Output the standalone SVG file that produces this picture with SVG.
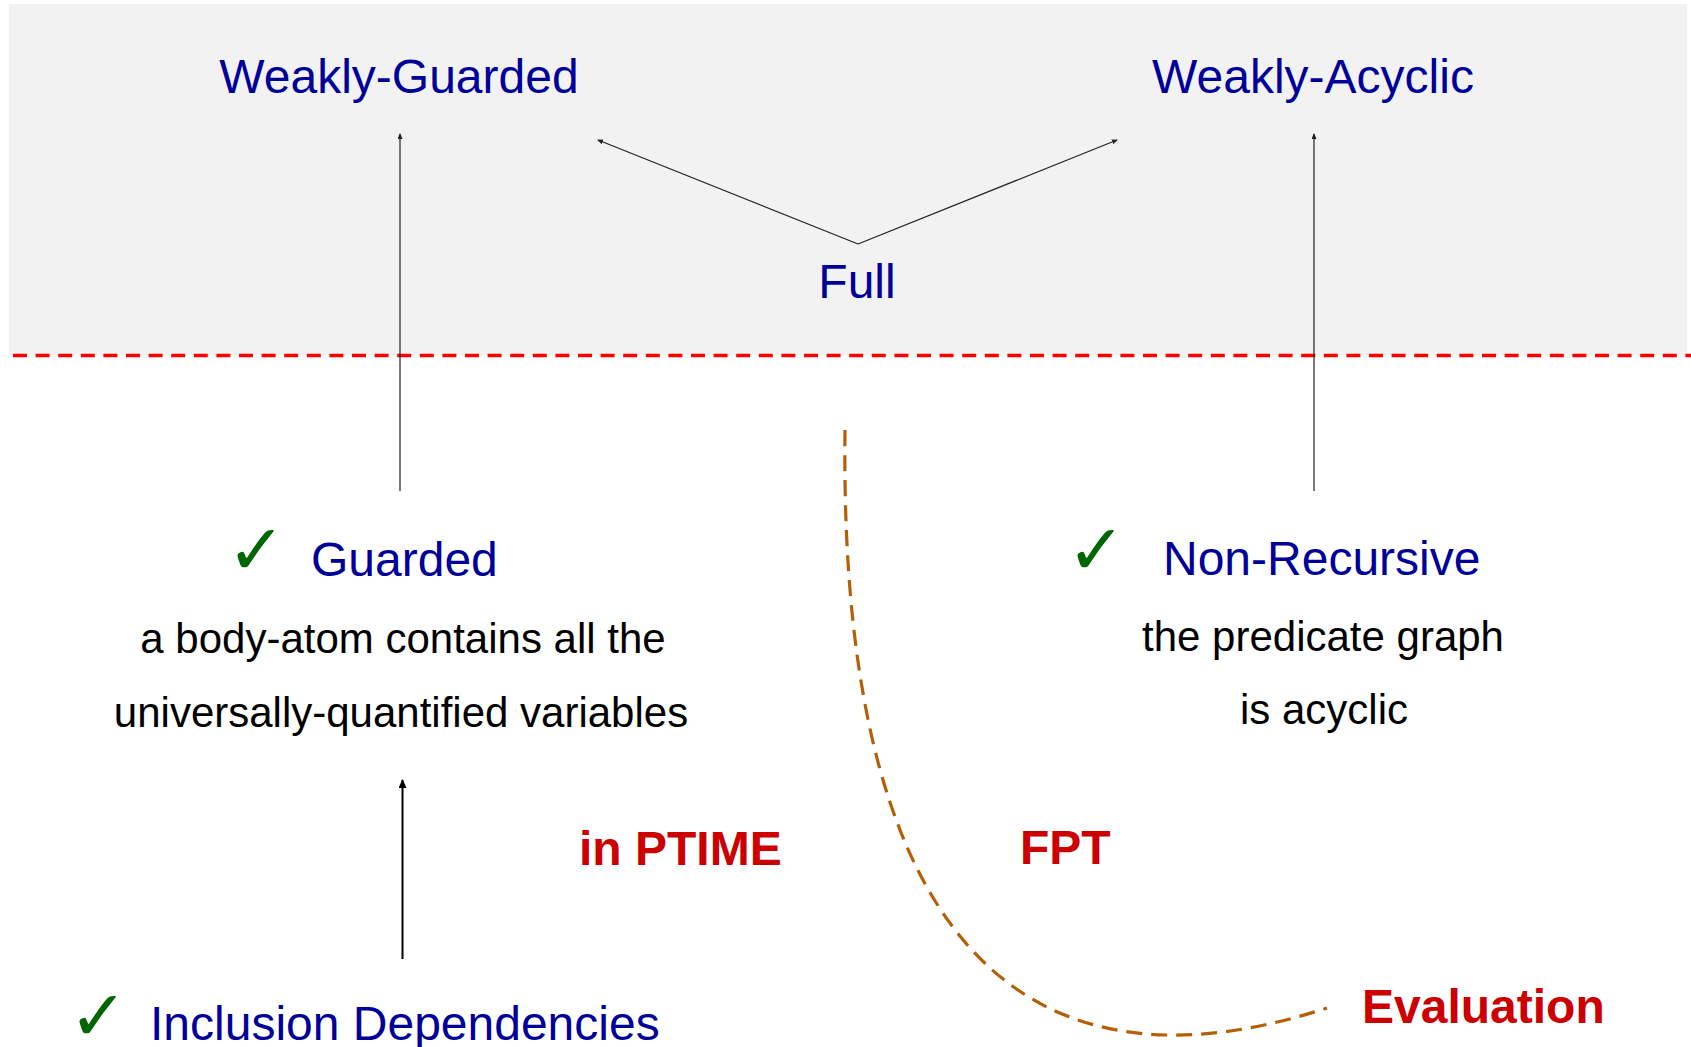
<svg xmlns="http://www.w3.org/2000/svg" width="1691" height="1047" viewBox="0 0 1691 1047">
<style>
.node{font-family:"Liberation Sans",Arial,sans-serif;font-size:48px;fill:#000099}
.desc{font-family:"Liberation Sans",Arial,sans-serif;font-size:42px;fill:#000000}
.red{font-family:"Liberation Sans",Arial,sans-serif;font-size:48px;font-weight:bold;fill:#cc0000}
.chk{font-family:"DejaVu Sans",sans-serif;font-size:70px;font-weight:bold;fill:#006600}
.thin{stroke:#222222;stroke-width:1.2;fill:none}
.thick{stroke:#000000;stroke-width:2;fill:none}
</style>
<defs>
<marker id="tiny" markerUnits="userSpaceOnUse" markerWidth="6" markerHeight="5" refX="5" refY="2.5" orient="auto">
<path d="M0,0 L6,2.5 L0,5 z" fill="#222222"/>
</marker>
<marker id="head" markerUnits="userSpaceOnUse" markerWidth="9" markerHeight="8" refX="8" refY="4" orient="auto">
<path d="M0,0 L9,4 L0,8 z" fill="#000000"/>
</marker>
</defs>
<rect x="0" y="0" width="1691" height="1047" fill="#ffffff"/>
<rect x="9" y="4" width="1678" height="351" fill="#f2f2f2"/>
<line x1="13" y1="355.5" x2="1691" y2="355.5" stroke="#ff0000" stroke-width="3.3" stroke-dasharray="14 8.6"/>

<g id="connectors">
<line class="thin" x1="400" y1="491" x2="400" y2="134" marker-end="url(#tiny)"/>
<line class="thin" x1="1314" y1="491" x2="1314" y2="134" marker-end="url(#tiny)"/>
<line class="thin" x1="858" y1="244" x2="598" y2="140" marker-end="url(#tiny)"/>
<line class="thin" x1="858" y1="244" x2="1117" y2="140" marker-end="url(#tiny)"/>
<line class="thick" x1="402.5" y1="959" x2="402.5" y2="780" marker-end="url(#head)"/>
<path d="M845,430 C838,990 1060,1095 1327,1008" fill="none" stroke="#b45f06" stroke-width="3.2" stroke-dasharray="16 9"/>
</g>

<g id="weakly-guarded"><text class="node" x="399" y="93" text-anchor="middle">Weakly-Guarded</text></g>
<g id="weakly-acyclic"><text class="node" x="1313" y="93" text-anchor="middle">Weakly-Acyclic</text></g>
<g id="full"><text class="node" x="857" y="298" text-anchor="middle">Full</text></g>

<g id="guarded">
<text class="chk" x="227" y="574">✓</text>
<text class="node" x="311" y="576">Guarded</text>
<text class="desc" x="403" y="653" text-anchor="middle">a body-atom contains all the</text>
<text class="desc" x="401" y="727" text-anchor="middle">universally-quantified variables</text>
</g>

<g id="non-recursive">
<text class="chk" x="1067" y="574">✓</text>
<text class="node" x="1163" y="575">Non-Recursive</text>
<text class="desc" x="1323" y="651" text-anchor="middle">the predicate graph</text>
<text class="desc" x="1324" y="724" text-anchor="middle">is acyclic</text>
</g>

<g id="inclusion">
<text class="chk" x="69" y="1040">✓</text>
<text class="node" x="150" y="1040">Inclusion Dependencies</text>
</g>

<g id="labels">
<text class="red" x="579" y="865">in PTIME</text>
<text class="red" x="1020" y="864">FPT</text>
<text class="red" x="1362" y="1023">Evaluation</text>
</g>
</svg>
